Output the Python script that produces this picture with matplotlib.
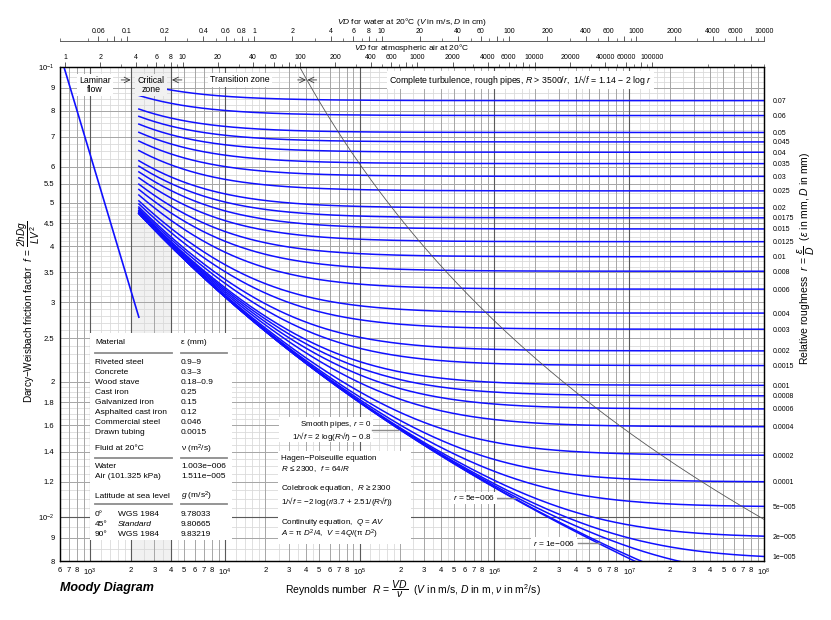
import numpy as np
import matplotlib.pyplot as plt
from matplotlib.lines import Line2D
from matplotlib.patches import Rectangle

plt.rcParams['font.family'] = ['Liberation Sans', 'DejaVu Sans']
plt.rcParams['mathtext.fontset'] = 'custom'
plt.rcParams['mathtext.rm'] = 'Liberation Sans'
plt.rcParams['mathtext.it'] = 'Liberation Sans:italic'
plt.rcParams['mathtext.bf'] = 'Liberation Sans:bold'
plt.rcParams['mathtext.sf'] = 'Liberation Sans'

W, H = 831, 620

# relative roughness of the labelled curves (right axis)
roughness = [0.07, 0.06, 0.05, 0.045, 0.04, 0.035, 0.03, 0.025, 0.02, 0.0175,
             0.015, 0.0125, 0.01, 0.008, 0.006, 0.004, 0.003, 0.002, 0.0015,
             0.001, 0.0008, 0.0006, 0.0004, 0.0002, 0.0001, 5e-5, 2e-5, 1e-5]
roughness_labels = ['0.07', '0.06', '0.05', '0.045', '0.04', '0.035', '0.03',
                    '0.025', '0.02', '0.0175', '0.015', '0.0125', '0.01',
                    '0.008', '0.006', '0.004', '0.003', '0.002', '0.0015',
                    '0.001', '0.0008', '0.0006', '0.0004', '0.0002', '0.0001',
                    '5e\u2212005', '2e\u2212005', '1e\u2212005']
# curves that run out through the bottom (labelled inside the plot), smooth pipe last
extra_roughness = [5e-6, 1e-6, 0.0]

R_laminar = [598, 2300]
R_turb_start = 2300
R_max = 1e8

nu_water = 1.003e-6
nu_air = 1.511e-5

f_ticks = [0.1, 0.09, 0.08, 0.07, 0.06, 0.055, 0.05, 0.045, 0.04, 0.035, 0.03,
           0.025, 0.02, 0.018, 0.016, 0.014, 0.012, 0.01, 0.009, 0.008]
f_tick_labels = ['$10^{-1}$', '9', '8', '7', '6', '5.5', '5', '4.5', '4', '3.5',
                 '3', '2.5', '2', '1.8', '1.6', '1.4', '1.2', '$10^{-2}$', '9', '8']

R_ticks = [600, 700, 800]
R_tick_labels = ['6', '7', '8']
for e in range(3, 8):
    R_ticks += [10 ** e] + [k * 10 ** e for k in range(2, 9)]
    R_tick_labels += ['$10^{%d}$' % e] + [str(k) for k in range(2, 9)]
R_ticks.append(1e8)
R_tick_labels.append('$10^{8}$')

water_labels = ['0.06', '0.1', '0.2', '0.4', '0.6', '0.8', '1', '2', '4', '6', '8',
                '10', '20', '40', '60', '100', '200', '400', '600', '1000', '2000',
                '4000', '6000', '10000']
air_labels = ['1', '2', '4', '6', '8', '10', '20', '40', '60', '100', '200', '400',
              '600', '1000', '2000', '4000', '6000', '10000', '20000', '40000',
              '60000', '100000']

materials = ['Riveted steel', 'Concrete', 'Wood stave', 'Cast iron', 'Galvanized iron',
             'Asphalted cast iron', 'Commercial steel', 'Drawn tubing']
material_eps = ['0.9\u20139', '0.3\u20133', '0.18\u20130.9', '0.25', '0.15', '0.12',
                '0.046', '0.0015']
fluids = ['Water', 'Air (101.325 kPa)']
fluid_nu = ['1.003e\u2212006', '1.511e\u2212005']
latitudes = ['0\u00b0', '45\u00b0', '90\u00b0']
lat_model = ['WGS 1984', 'Standard', 'WGS 1984']
lat_g = ['9.78033', '9.80665', '9.83219']


def colebrook(r, R):
    x = np.full_like(np.asarray(R, dtype=float), 8.0)
    for _ in range(60):
        x = -2 * np.log10(r / 3.7 + 2.51 * x / R)
    return 1 / x ** 2


def rough_limit(r):
    return 1 / (1.14 - 2 * np.log10(r)) ** 2


def fx(px):
    return px / W


def fy(py):
    return 1 - py / H


fig = plt.figure(figsize=(W / 100, H / 100), dpi=100)
ax = fig.add_axes([fx(60), fy(561), (764 - 60) / W, (561 - 67) / H])
ax.set_xscale('log')
ax.set_yscale('log')
ax.set_xlim(598, R_max)
ax.set_ylim(0.008, 0.1)

# grid
for dec in 10.0 ** np.arange(2, 8):
    for k in [1.2, 1.4, 1.6, 1.8, 2.5, 3.5, 4.5]:
        ax.axvline(k * dec, color='#dadada', lw=0.6, zorder=0.5)
    for k in range(2, 10):
        ax.axvline(k * dec, color='#a6a6a6', lw=0.7, zorder=0.6)
for v in [1e3, 2e3, 4e3, 1e4, 1e5, 1e6, 1e7]:
    ax.axvline(v, color='#5a5a5a', lw=0.8, zorder=0.7)
fine_f = np.concatenate([np.arange(0.008, 0.02, 0.0005), np.arange(0.02, 0.05, 0.001),
                         np.arange(0.05, 0.1, 0.0025)])
for v in fine_f:
    ax.axhline(v, color='#dadada', lw=0.6, zorder=0.5)
for v in f_ticks:
    ax.axhline(v, color='#a6a6a6', lw=0.7, zorder=0.6)
ax.axhline(0.01, color='#5a5a5a', lw=0.8, zorder=0.7)
ax.axvspan(2000, 4000, color='#f1f1f1', zorder=0.2)

# curves
ax.plot(R_laminar, [64 / R_laminar[0], 64 / R_laminar[1]], color='#1010ff', lw=1.2, zorder=3)
R = np.logspace(np.log10(R_turb_start), np.log10(R_max), 400)
for r in roughness + extra_roughness:
    ax.plot(R, colebrook(r, R), color='#1010ff', lw=1.1, zorder=3)

r_line = np.logspace(np.log10(0.1), np.log10(3500 / R_max), 200)
ax.plot(3500 / r_line, rough_limit(r_line), color='#555555', lw=0.6, zorder=3.5)

ax.set_xticks(R_ticks, R_tick_labels)
ax.set_yticks(f_ticks, f_tick_labels)
ax.xaxis.set_minor_locator(plt.NullLocator())
ax.yaxis.set_minor_locator(plt.NullLocator())
ax.tick_params(axis='x', length=0, pad=4, labelsize=5.5)
ax.tick_params(axis='y', length=0, pad=4, labelsize=5.5)
for s in ax.spines.values():
    s.set_linewidth(0.9)

# right axis: roughness labels at the right end of each curve
axr = ax.twinx()
axr.set_yscale('log')
axr.set_ylim(ax.get_ylim())
axr.set_yticks([float(colebrook(r, np.array([R_max]))[0]) for r in roughness], roughness_labels)
axr.yaxis.set_minor_locator(plt.NullLocator())
axr.tick_params(axis='y', length=0, pad=6, labelsize=5)

# air axis on top of the plot
axa = ax.twiny()
axa.set_xscale('log')
axa.set_xlim(598 * nu_air * 100, R_max * nu_air * 100)
air_pos = [float(s) for s in air_labels]
air_extra = [80, 800, 8000, 80000]
axa.set_xticks(air_pos + air_extra, air_labels + [''] * len(air_extra))
axa.set_xticks([k * 10 ** e for e in range(0, 6) for k in (3, 5, 7, 9)], minor=True)
axa.xaxis.set_minor_formatter(plt.NullFormatter())
axa.tick_params(axis='x', which='major', length=3.5, width=0.6, pad=1, labelsize=5,
                color='#444444')
axa.tick_params(axis='x', which='minor', length=2, width=0.5, color='#444444')

# water axis, separate strip above
axw = fig.add_axes([fx(60), fy(41), (764 - 60) / W, 0.0001])
axw.set_xscale('log')
axw.set_xlim(598 * nu_water * 100, R_max * nu_water * 100)
axw.patch.set_alpha(0)
for side in ['left', 'right', 'bottom']:
    axw.spines[side].set_visible(False)
axw.spines['top'].set_linewidth(0.6)
axw.spines['top'].set_color('#444444')
axw.set_yticks([])
axw.xaxis.set_ticks_position('top')
axw.xaxis.set_label_position('top')
water_pos = [float(s) for s in water_labels]
water_extra = [0.08, 80, 800, 8000]
axw.set_xticks(water_pos + water_extra, water_labels + [''] * len(water_extra))
axw.set_xticks([k * 10.0 ** e for e in range(-2, 4) for k in (3, 5, 7, 9)], minor=True)
axw.xaxis.set_minor_formatter(plt.NullFormatter())
axw.tick_params(axis='x', which='major', length=3.5, width=0.6, pad=1, labelsize=5,
                color='#444444')
axw.tick_params(axis='x', which='minor', length=2, width=0.5, color='#444444')

# zone labels
white = dict(facecolor='white', edgecolor='none', pad=1.5)
ax.text(1090, 0.0912, 'Laminar\nflow', ha='center', va='center', fontsize=6.3,
        bbox=white, zorder=5, linespacing=1.1)
ax.text(2830, 0.0912, 'Critical\nzone', ha='center', va='center', fontsize=6.3,
        bbox=dict(facecolor='#f1f1f1', edgecolor='none', pad=1.5), zorder=5, linespacing=1.1)
ax.text(12900, 0.0936, 'Transition zone', ha='center', va='center', fontsize=6.3,
        bbox=white, zorder=5)
ax.text(1.56e6, 0.0936,
        'Complete turbulence, rough pipes, $R$ > 3500/$r$,  1/\u221a$f$ = 1.14 \u2212 2 log $r$',
        ha='center', va='center', fontsize=6.3, bbox=white, zorder=5)
arrow = dict(arrowstyle='->', lw=0.6, color='#333333', shrinkA=0, shrinkB=0)
ax.annotate('', xy=(2000, 0.0936), xytext=(1700, 0.0936), arrowprops=arrow, zorder=5)
ax.annotate('', xy=(4050, 0.0936), xytext=(4800, 0.0936), arrowprops=arrow, zorder=5)
ax.annotate('', xy=(40000, 0.0936), xytext=(34700, 0.0936), arrowprops=arrow, zorder=5)
ax.annotate('', xy=(41000, 0.0936), xytext=(48000, 0.0936), arrowprops=arrow, zorder=5)

# material / fluid table
fig.add_artist(Rectangle((fx(90), fy(540)), (232 - 90) / W, (540 - 333) / H,
                         transform=fig.transFigure, facecolor='white', edgecolor='none', zorder=1))
ts = 6


def sep(py):
    for x0, x1 in [(95, 172), (181, 227)]:
        fig.add_artist(Line2D([fx(x0), fx(x1)], [fy(py), fy(py)], transform=fig.transFigure,
                              color='#8c8c8c', lw=1.3, zorder=2))


fig.text(fx(95), fy(343), 'Material', fontsize=ts, va='center')
fig.text(fx(181), fy(343), '\u03b5 (mm)', fontsize=ts, va='center')
sep(353)
for i, (m, e) in enumerate(zip(materials, material_eps)):
    fig.text(fx(95), fy(362 + 10 * i), m, fontsize=ts, va='center')
    fig.text(fx(181), fy(362 + 10 * i), e, fontsize=ts, va='center')
fig.text(fx(95), fy(449), 'Fluid at 20\u00b0C', fontsize=ts, va='center')
fig.text(fx(181), fy(449), '\u03bd (m$^2$/s)', fontsize=ts, va='center')
sep(458)
for i, (m, e) in enumerate(zip(fluids, fluid_nu)):
    fig.text(fx(95), fy(467 + 10 * i), m, fontsize=ts, va='center')
    fig.text(fx(181), fy(467 + 10 * i), e, fontsize=ts, va='center')
fig.text(fx(95), fy(496), 'Latitude at sea level', fontsize=ts, va='center')
fig.text(fx(181), fy(496), '$g$ (m/s$^2$)', fontsize=ts, va='center')
sep(504)
for i, (a, m, g) in enumerate(zip(latitudes, lat_model, lat_g)):
    fig.text(fx(95), fy(514 + 10 * i), a, fontsize=ts, va='center')
    fig.text(fx(118), fy(514 + 10 * i), m, fontsize=ts, va='center',
             style='italic' if m == 'Standard' else 'normal')
    fig.text(fx(181), fy(514 + 10 * i), g, fontsize=ts, va='center')

# equations
es = 5.8
fig.add_artist(Rectangle((fx(279), fy(442)), (373 - 279) / W, (442 - 417) / H,
                         transform=fig.transFigure, facecolor='white', edgecolor='none', zorder=1))
fig.add_artist(Rectangle((fx(278), fy(544)), (411 - 278) / W, (544 - 451) / H,
                         transform=fig.transFigure, facecolor='white', edgecolor='none', zorder=1))
fig.text(fx(371), fy(424.5), 'Smooth pipes, $r$ = 0', fontsize=es, va='center', ha='right')
fig.text(fx(371), fy(436.5), '1/\u221a$f$ = 2 log($R$\u221a$f$) \u2212 0.8', fontsize=es,
         va='center', ha='right')
fig.add_artist(Line2D([fx(372), fx(398)], [fy(430), fy(430)], transform=fig.transFigure,
                      color='#8c8c8c', lw=1.0, zorder=2))
fig.text(fx(281), fy(459), 'Hagen\u2212Poiseuille equation', fontsize=es, va='center')
fig.text(fx(281), fy(469.5), '$R$ \u2264 2300,  $f$ = 64/$R$', fontsize=es, va='center')
fig.text(fx(281), fy(489), 'Colebrook equation,  $R$ \u2265 2300', fontsize=es, va='center')
fig.text(fx(281), fy(501), '1/\u221a$f$ = \u22122 log($r$/3.7 + 2.51/($R$\u221a$f$))',
         fontsize=es, va='center')
fig.text(fx(281), fy(522), 'Continuity equation,  $Q$ = $AV$', fontsize=es, va='center')
fig.text(fx(281), fy(534.5), '$A$ = \u03c0 $D^2$/4,  $V$ = 4$Q$/(\u03c0 $D^2$)', fontsize=es,
         va='center')

# inline curve labels
fig.text(fx(495), fy(498), '$r$ = 5e\u2212006', fontsize=ts, va='center', ha='right',
         bbox=dict(facecolor='white', edgecolor='none', pad=1.2))
fig.add_artist(Line2D([fx(497), fx(515)], [fy(498), fy(498)], transform=fig.transFigure,
                      color='#8c8c8c', lw=1.0, zorder=2))
fig.text(fx(533), fy(543), '$r$ = 1e\u2212006', fontsize=ts, va='center', ha='left',
         bbox=dict(facecolor='white', edgecolor='none', pad=1.2))
fig.add_artist(Line2D([fx(578), fx(600)], [fy(543), fy(543)], transform=fig.transFigure,
                      color='#8c8c8c', lw=1.0, zorder=2))

# axis titles
fig.text(fx(412), fy(22), '$VD$ for water at 20\u00b0C ($V$ in m/s, $D$ in cm)', fontsize=6,
         ha='center', va='center')
fig.text(fx(412), fy(48), '$VD$ for atmospheric air at 20\u00b0C', fontsize=6,
         ha='center', va='center')
fig.text(fx(413), fy(589),
         r'Reynolds number  $R\,=\,\dfrac{VD}{\nu}$  ($V$ in m/s, $D$ in m, $\nu$ in m$^2$/s)',
         fontsize=7.5, ha='center', va='center')
fig.text(fx(29), fy(312),
         r'Darcy$-$Weisbach friction factor  $f\,=\,\dfrac{2hDg}{LV^2}$',
         fontsize=7.2, ha='center', va='center', rotation=90)
fig.text(fx(806), fy(258),
         r'Relative roughness  $r\,=\,\dfrac{\varepsilon}{D}$  ($\varepsilon$ in mm, $D$ in mm)',
         fontsize=7.5, ha='center', va='center', rotation=90)
fig.text(fx(60), fy(588), 'Moody Diagram', fontsize=9, weight='bold', style='italic',
         va='center')

fig.savefig('out.png', dpi=100)
